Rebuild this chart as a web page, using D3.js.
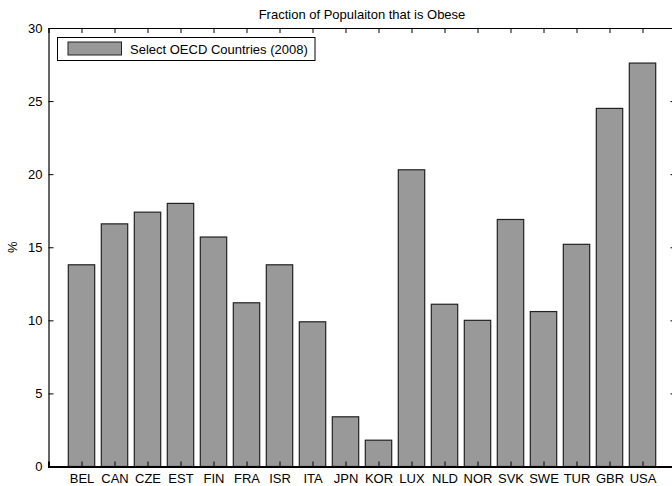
<!DOCTYPE html>
<html>
<head>
<meta charset="utf-8">
<script src="https://cdn.jsdelivr.net/npm/d3@7"></script>
<style>
  body { margin: 0; background: #fff; }
  text { font-family: "Liberation Sans", Arial, sans-serif; }
</style>
</head>
<body>
<script>
const countries = ["BEL", "CAN", "CZE", "EST", "FIN", "FRA", "ISR", "ITA", "JPN", "KOR",
                   "LUX", "NLD", "NOR", "SVK", "SWE", "TUR", "GBR", "USA"];
const obese = [13.8, 16.6, 17.4, 18.0, 15.7, 11.2, 13.8, 9.9, 3.4, 1.8,
               20.3, 11.1, 10.0, 16.9, 10.6, 15.2, 24.5, 27.6];
const yTicks = [0, 5, 10, 15, 20, 25, 30];
const chartTitle = "Fraction of Populaiton that is Obese";
const legendLabel = "Select OECD Countries (2008)";

const W = 672, H = 486;
const plot = { left: 48.5, right: 675.5, top: 28, bottom: 466.5 };

const svg = d3.select("body").append("svg")
    .attr("width", W)
    .attr("height", H);

const x = d3.scaleLinear().domain([0, countries.length + 1]).range([plot.left, plot.right]);
const y = d3.scaleLinear().domain([0, 30]).range([plot.bottom, plot.top]);
const barW = (x(1) - x(0)) * 0.8;

// bars
svg.append("g").selectAll("rect")
    .data(obese)
    .enter().append("rect")
    .attr("x", (d, i) => x(i + 1) - barW / 2)
    .attr("y", d => y(d))
    .attr("width", barW)
    .attr("height", d => y(0) - y(d))
    .attr("fill", "#999999")
    .attr("stroke", "#222")
    .attr("stroke-width", 1.2);

const tickIdx = countries.map((c, i) => i + 1);

// axes: ticks pointing inward like matlab
const xb = svg.append("g").attr("transform", `translate(0,${plot.bottom})`)
    .call(d3.axisBottom(x).tickValues(tickIdx).tickSize(-5).tickPadding(7)
        .tickFormat(i => countries[i - 1]));
const xt = svg.append("g").attr("transform", `translate(0,${plot.top})`)
    .call(d3.axisTop(x).tickValues(tickIdx).tickSize(-5).tickFormat(""));
const yl = svg.append("g").attr("transform", `translate(${plot.left},0)`)
    .call(d3.axisLeft(y).tickValues(yTicks).tickSize(-5).tickPadding(6));
const yr = svg.append("g").attr("transform", `translate(${plot.right},0)`)
    .call(d3.axisRight(y).tickValues(yTicks).tickSize(-5).tickFormat(""));

[xb, xt, yl, yr].forEach(g => {
    g.select(".domain").attr("stroke", "#000").attr("stroke-width", 1.2);
    g.selectAll(".tick line").attr("stroke", "#000");
    g.selectAll(".tick text")
        .attr("fill", "#000")
        .style("font-size", "13px")
        .style("font-family", "'Liberation Sans', Arial, sans-serif");
});
xb.select(".domain").attr("stroke-width", 2);

// title
svg.append("text")
    .attr("x", (plot.left + plot.right) / 2)
    .attr("y", 18.5)
    .attr("text-anchor", "middle")
    .style("font-size", "13px")
    .text(chartTitle);

// y label
svg.append("text")
    .attr("transform", `translate(17,${(plot.top + plot.bottom) / 2}) rotate(-90)`)
    .attr("text-anchor", "middle")
    .style("font-size", "13px")
    .text("%");

// legend
const lg = svg.append("g");
lg.append("rect")
    .attr("x", 57.5).attr("y", 37.5)
    .attr("width", 257.5).attr("height", 23)
    .attr("fill", "#fff").attr("stroke", "#000").attr("stroke-width", 1);
lg.append("rect")
    .attr("x", 68).attr("y", 42)
    .attr("width", 53.5).attr("height", 13)
    .attr("fill", "#999999").attr("stroke", "#222").attr("stroke-width", 1);
lg.append("text")
    .attr("x", 130).attr("y", 53.5)
    .style("font-size", "13px")
    .text(legendLabel);
</script>
</body>
</html>
